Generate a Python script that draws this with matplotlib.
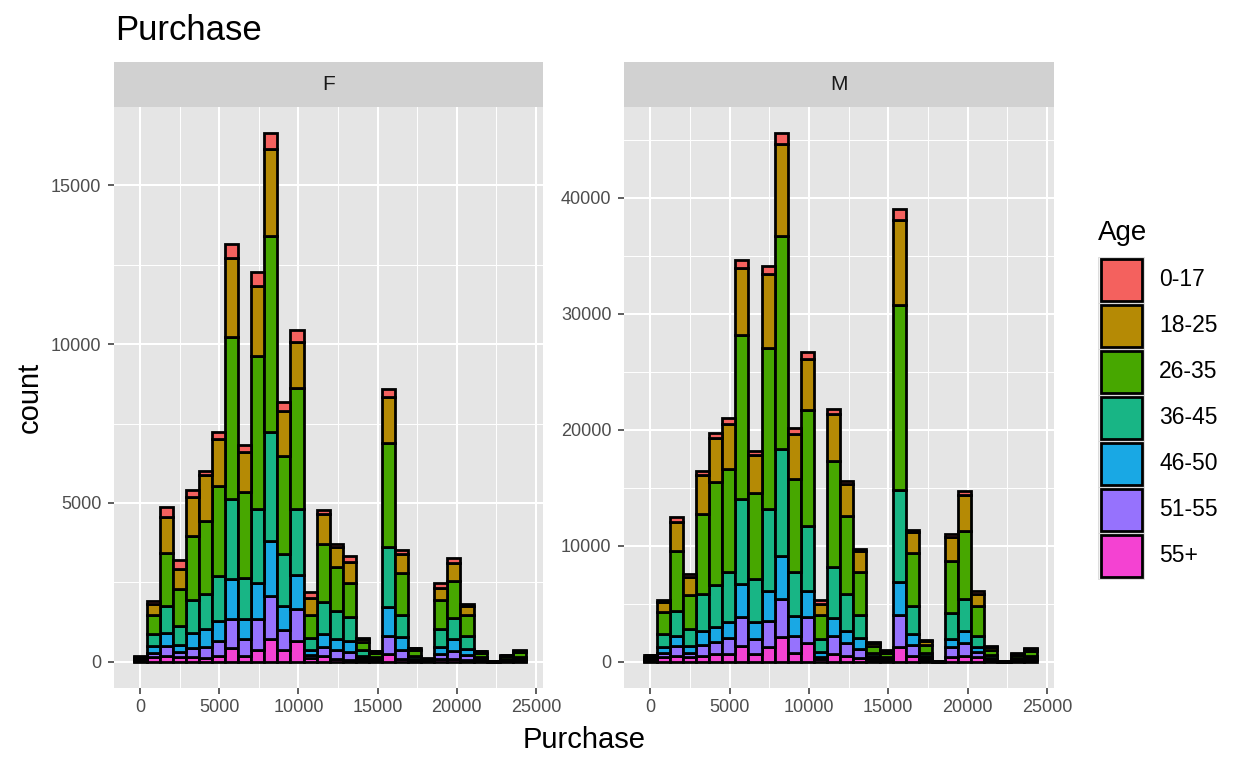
import numpy as np
import matplotlib.pyplot as plt
from matplotlib.patches import Rectangle
from matplotlib.ticker import MultipleLocator

plt.rcParams['font.family'] = ['Liberation Sans', 'DejaVu Sans']

# histogram bins (30 bins, ggplot default)
bin_width = 826
bin_centers = np.arange(30) * bin_width

age_levels = ['0-17', '18-25', '26-35', '36-45', '46-50', '51-55', '55+']
age_colors = ['#F4615E', '#B58A05', '#47A700', '#18B585', '#19A8E4', '#9672FD', '#F442D2']

# counts per bin, Gender = F
f_0_17 = [20, 110, 310, 280, 230, 150, 210, 430, 220, 460, 490, 310, 390, 180, 130,
          100, 210, 30, 20, 260, 130, 20, 10, 140, 150, 80, 20, 3, 15, 20]
f_18_25 = [40, 340, 1140, 640, 1210, 1430, 1490, 2500, 1260, 2200, 2730, 1400, 1440, 530, 940,
           630, 640, 100, 50, 1440, 610, 60, 20, 400, 580, 260, 40, 5, 30, 50]
f_26_35 = [50, 590, 1690, 1170, 2030, 2320, 2830, 5090, 2710, 4800, 6180, 3090, 3820, 730, 1830,
           1380, 1090, 260, 120, 3280, 1300, 180, 30, 900, 1160, 670, 140, 6, 90, 150]
f_36_45 = [30, 390, 840, 580, 1030, 1090, 1410, 2530, 1290, 2350, 3430, 1630, 2080, 390, 1010,
           880, 760, 180, 70, 1910, 690, 90, 20, 560, 670, 420, 70, 3, 45, 70]
f_46_50 = [15, 200, 420, 230, 460, 570, 640, 1260, 620, 1130, 1750, 760, 1050, 140, 410,
           360, 340, 80, 30, 900, 440, 40, 10, 220, 370, 180, 30, 1, 20, 30]
f_51_55 = [10, 150, 290, 140, 310, 350, 450, 920, 530, 970, 1340, 650, 1010, 110, 270,
           280, 240, 50, 30, 560, 270, 30, 5, 170, 250, 150, 25, 1, 12, 25]
f_55p = [5, 130, 190, 160, 130, 110, 190, 420, 190, 370, 720, 350, 660, 110, 190,
         80, 60, 50, 20, 250, 80, 20, 5, 80, 80, 60, 15, 1, 8, 15]

# counts per bin, Gender = M
m_0_17 = [60, 210, 400, 250, 400, 400, 520, 710, 300, 770, 920, 550, 560, 370, 440,
          310, 150, 100, 60, 920, 240, 80, 10, 210, 310, 210, 80, 5, 40, 60]
m_18_25 = [120, 830, 2520, 1540, 3350, 3840, 3840, 5790, 3330, 6300, 7940, 3850, 4430, 920, 4090,
           2770, 1790, 250, 150, 7290, 1790, 300, 15, 2090, 3080, 1020, 250, 8, 100, 150]
m_26_35 = [180, 1940, 5140, 2920, 6860, 8830, 8870, 14120, 7440, 13940, 18370, 8000, 10030, 2150, 9170,
           6700, 3720, 600, 350, 16000, 4520, 700, 15, 4460, 5910, 2610, 450, 8, 250, 450]
m_36_45 = [100, 1080, 2190, 1450, 3170, 3640, 4300, 7320, 3630, 7020, 9170, 3840, 5540, 1080, 4370,
           3140, 2030, 300, 170, 7940, 2460, 300, 10, 2250, 2700, 930, 250, 4, 120, 200]
m_46_50 = [50, 520, 890, 610, 1230, 1320, 1450, 2860, 1540, 2580, 3760, 1690, 2270, 400, 1530,
           1080, 950, 150, 90, 2770, 920, 150, 5, 680, 1080, 460, 120, 2, 70, 100]
m_51_55 = [40, 400, 800, 400, 930, 1040, 1320, 2440, 1230, 2280, 3230, 1450, 2280, 210, 1540,
           1080, 770, 130, 80, 2770, 930, 150, 3, 860, 1080, 460, 100, 2, 60, 80]
m_55p = [50, 370, 520, 370, 520, 620, 680, 1380, 680, 1260, 2150, 770, 1570, 220, 680,
         520, 280, 160, 80, 1290, 520, 170, 2, 430, 520, 370, 100, 1, 70, 100]

f_counts = [f_0_17, f_18_25, f_26_35, f_36_45, f_46_50, f_51_55, f_55p]
m_counts = [m_0_17, m_18_25, m_26_35, m_36_45, m_46_50, m_51_55, m_55p]

W, H = 1248, 768
fig = plt.figure(figsize=(W / 100, H / 100), dpi=100)

panel_bg = '#E5E5E5'
strip_bg = '#D1D1D1'
edge_lw = 2.0


def draw_panel(left, right, counts, label, ymax, ymajor):
    ax = fig.add_axes([left / W, 1 - 688 / H, (right - left) / W, (688 - 107) / H])
    ax.set_facecolor(panel_bg)
    # stack from the last level (bottom) to the first (top), like ggplot
    bottom = np.zeros(len(bin_centers))
    for vals, col in zip(counts[::-1], age_colors[::-1]):
        vals = np.array(vals, dtype=float)
        ax.bar(bin_centers, vals, bottom=bottom, width=bin_width, color=col,
               edgecolor='black', linewidth=edge_lw, zorder=3)
        bottom = bottom + vals
    ax.set_xlim(-1650, 25450)
    ax.set_ylim(-0.05 * ymax, ymax * 1.05)
    ax.xaxis.set_major_locator(MultipleLocator(5000))
    ax.xaxis.set_minor_locator(MultipleLocator(2500))
    ax.yaxis.set_major_locator(MultipleLocator(ymajor))
    ax.yaxis.set_minor_locator(MultipleLocator(ymajor / 2))
    ax.grid(which='major', color='white', linewidth=1.45, zorder=0)
    ax.grid(which='minor', color='white', linewidth=0.7, zorder=0)
    ax.set_axisbelow(True)
    for s in ax.spines.values():
        s.set_visible(False)
    ax.tick_params(which='major', length=4, width=1.1, color='#333333',
                   labelsize=13, labelcolor='#4D4D4D', pad=4)
    ax.tick_params(axis='y', which='major', pad=5)
    ax.tick_params(which='minor', length=0)
    ax.xaxis.set_major_formatter(plt.FuncFormatter(lambda v, p: f'{int(v)}'))
    ax.yaxis.set_major_formatter(plt.FuncFormatter(lambda v, p: f'{int(v)}'))

    strip = fig.add_axes([left / W, 1 - 107 / H, (right - left) / W, 45 / H])
    strip.set_facecolor(strip_bg)
    strip.set_xticks([])
    strip.set_yticks([])
    for s in strip.spines.values():
        s.set_visible(False)
    strip.text(0.5, 0.5, label, ha='center', va='center', fontsize=15,
               color='#1A1A1A', transform=strip.transAxes)
    return ax


f_total = np.sum(np.array(f_counts), axis=0)
m_total = np.sum(np.array(m_counts), axis=0)
draw_panel(114, 543, f_counts, 'F', f_total.max(), 5000)
draw_panel(624, 1054, m_counts, 'M', m_total.max(), 10000)

# titles
fig.text(115 / W, 1 - 40 / H, 'Purchase', fontsize=25, va='baseline', ha='left')
fig.text(584 / W, 1 - 748 / H, 'Purchase', fontsize=21, va='baseline', ha='center')
fig.text(30 / W, 1 - 397 / H, 'count', fontsize=21, va='center', ha='center', rotation=90)

# legend drawn by hand in pixel coordinates
leg = fig.add_axes([0, 0, 1, 1])
leg.set_xlim(0, W)
leg.set_ylim(H, 0)
leg.axis('off')
leg.patch.set_alpha(0)
leg.text(1098, 240, 'Age', fontsize=20, va='baseline', ha='left')
for i, (lab, col) in enumerate(zip(age_levels, age_colors)):
    y0 = 257 + i * 46
    leg.add_patch(Rectangle((1098, y0), 46, 46, facecolor='#F2F2F2', edgecolor='#D8D8D8', linewidth=0.6))
    leg.add_patch(Rectangle((1100.5, y0 + 2), 41, 42, facecolor=col, edgecolor='black', linewidth=edge_lw))
    leg.text(1159, y0 + 23, lab, fontsize=16.5, va='center', ha='left')

fig.savefig('out.png', dpi=100)
